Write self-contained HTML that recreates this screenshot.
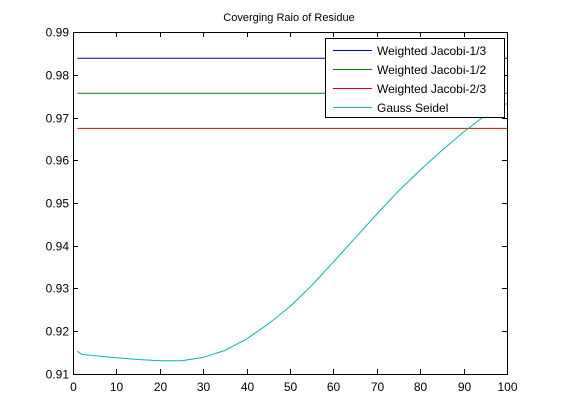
<!DOCTYPE html>
<html><head><meta charset="utf-8"><style>body{margin:0;background:#fff}svg{display:block;font-family:"Liberation Sans",sans-serif}</style></head>
<body>
<svg id="c" width="561" height="420"></svg>
<script>
const xTicks=[0,10,20,30,40,50,60,70,80,90,100];
const yTicks=[0.91,0.92,0.93,0.94,0.95,0.96,0.97,0.98,0.99];
const seriesNames=["Weighted Jacobi-1/3","Weighted Jacobi-1/2","Weighted Jacobi-2/3","Gauss Seidel"];
const jacobi13=0.98385, jacobi12=0.97566, jacobi23=0.96745;
const gsX=[1,2,5,10,15,20,25,30,35,40,45,50,55,60,65,70,75,80,85,90,95,100];
const gsY=[0.9153,0.9146,0.9143,0.9138,0.9134,0.9131,0.9131,0.9139,0.9155,0.9182,0.9217,0.9258,0.9307,0.9362,0.9418,0.9474,0.9528,0.9577,0.9623,0.9666,0.9705,0.9733];
const colors=["#0000c0","#007f00","#e00000","#00b5b5"];
const L=73,R=507,T=32,B=374;
const sx=v=>L+(v-0)/100*(R-L), sy=v=>B-(v-0.91)/0.08*(B-T);
const svg=document.getElementById('c'), NS="http://www.w3.org/2000/svg";
function mk(t,a,p){const e=document.createElementNS(NS,t);for(const k in a)e.setAttribute(k,a[k]);(p||svg).appendChild(e);return e;}
let t=mk('text',{x:289,y:21,'font-size':11,'text-anchor':'middle'});t.textContent="Coverging Raio of Residue";


const plot=mk('g',{});


[jacobi13,jacobi12,jacobi23].forEach((v,i)=>{
 const l=mk('line',{x1:sx(1),x2:sx(100),y1:sy(v),y2:sy(v),stroke:colors[i],'stroke-width':1},plot);
 
 
});
const pl=mk('polyline',{points:gsX.map((x,i)=>sx(x)+','+sy(gsY[i])).join(' '),fill:'none',stroke:colors[3],'stroke-width':1,'stroke-linejoin':'round'},plot);


const ax=mk('rect',{x:L+0.5,y:T+0.5,width:R-L,height:B-T,fill:'none',stroke:'#000'});


xTicks.forEach(v=>{const x=Math.round(sx(v))+0.5;
 mk('line',{x1:x,x2:x,y1:B,y2:B-5,stroke:'#000'});mk('line',{x1:x,x2:x,y1:T,y2:T+5,stroke:'#000'});
 const tx=mk('text',{x:x,y:B+17,'font-size':12,'text-anchor':'middle'});tx.textContent=v;
 
 });
yTicks.forEach(v=>{const y=Math.round(sy(v))+0.5;
 mk('line',{x1:L,x2:L+5,y1:y,y2:y,stroke:'#000'});mk('line',{x1:R-5,x2:R,y1:y,y2:y,stroke:'#000'});
 const tx=mk('text',{x:L-4,y:y+4,'font-size':12,'text-anchor':'end'});tx.textContent=v.toFixed(2);
 
 });
const lg=mk('g',{});


mk('rect',{x:325.5,y:38.5,width:179,height:79,fill:'#fff',stroke:'#000'},lg);
seriesNames.forEach((n,i)=>{const y=50+i*19;
 mk('line',{x1:333,x2:372,y1:y+0.5,y2:y+0.5,stroke:colors[i]},lg);
 const tx=mk('text',{x:377,y:y+5,'font-size':12},lg);tx.textContent=n;
 
 });
</script>
</body></html>
